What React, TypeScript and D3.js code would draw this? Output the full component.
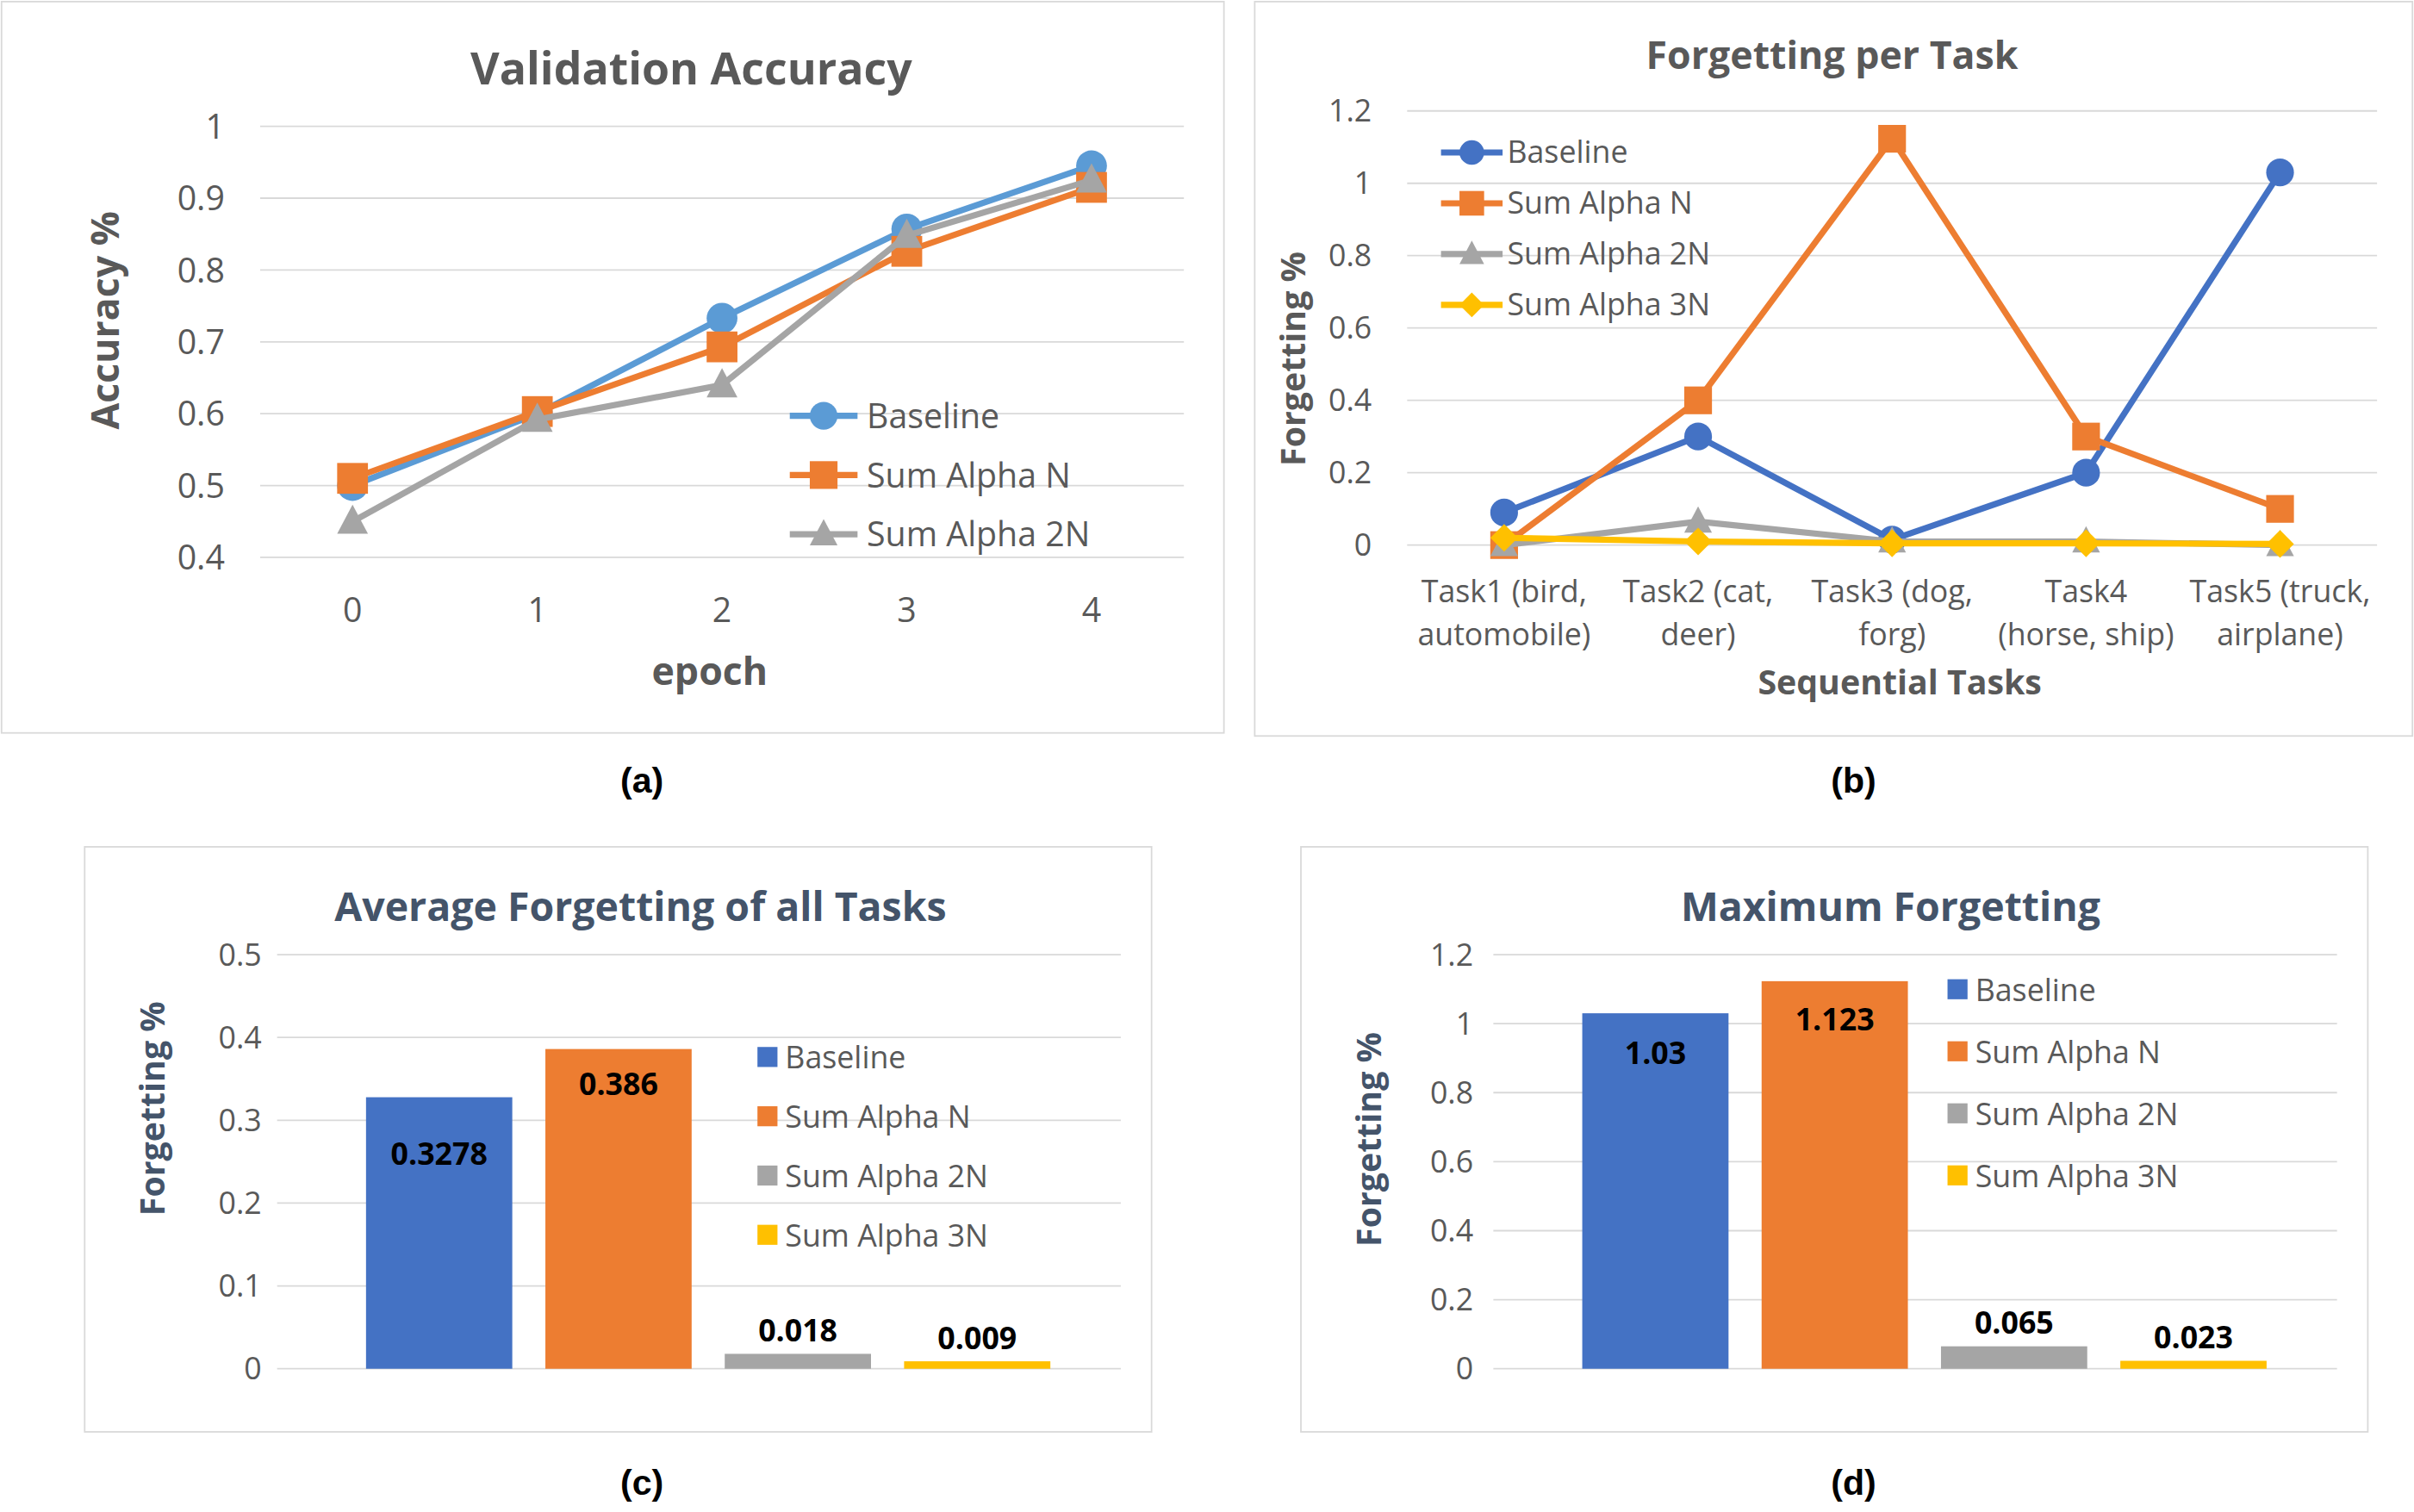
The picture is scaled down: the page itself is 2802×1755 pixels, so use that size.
import * as d3 from "d3";

const epochs = ["0", "1", "2", "3", "4"];
const accBaseline = [0.5, 0.6, 0.733, 0.857, 0.945];
const accSumN = [0.51, 0.603, 0.693, 0.826, 0.915];
const accSum2N = [0.45, 0.592, 0.64, 0.848, 0.925];

const tasks = [
  ["Task1 (bird,", "automobile)"],
  ["Task2 (cat,", "deer)"],
  ["Task3 (dog,", "forg)"],
  ["Task4", "(horse, ship)"],
  ["Task5 (truck,", "airplane)"],
];
const fgBaseline = [0.09, 0.3, 0.015, 0.2, 1.03];
const fgSumN = [0.0, 0.4, 1.123, 0.3, 0.1];
const fgSum2N = [0.0, 0.065, 0.01, 0.01, 0.0];
const fgSum3N = [0.02, 0.01, 0.005, 0.005, 0.003];

const methods = ["Baseline", "Sum Alpha N", "Sum Alpha 2N", "Sum Alpha 3N"];
const avgForgetting = [0.3278, 0.386, 0.018, 0.009];
const avgLabels = ["0.3278", "0.386", "0.018", "0.009"];
const maxForgetting = [1.03, 1.123, 0.065, 0.023];
const maxLabels = ["1.03", "1.123", "0.065", "0.023"];

const FONT = "'Open Sans', 'Noto Sans', sans-serif";
const GRID = "#D9D9D9";
const TXT = "#595959";
const barColors = ["#4472C4", "#ED7D31", "#A5A5A5", "#FFC000"];

function Marker({ kind, x, y, color, s }: { kind: string; x: number; y: number; color: string; s: number }) {
  if (kind === "circle") return <circle cx={x} cy={y} r={s} fill={color} />;
  if (kind === "square") return <rect x={x - s} y={y - s} width={2 * s} height={2 * s} fill={color} />;
  if (kind === "triangle")
    return <path d={`M${x},${y - s * 1.1}L${x + s},${y + s * 0.8}L${x - s},${y + s * 0.8}Z`} fill={color} />;
  return <path d={`M${x},${y - s}L${x + s},${y}L${x},${y + s}L${x - s},${y}Z`} fill={color} />;
}

function PanelA() {
  const x = d3.scalePoint().domain(epochs).range([229, 709]);
  const y = d3.scaleLinear().domain([0.4, 1]).range([362, 82]);
  const ticks = d3.range(0.4, 1.001, 0.1);
  const series = [
    { name: "Baseline", v: accBaseline, c: "#5B9BD5", m: "circle" },
    { name: "Sum Alpha N", v: accSumN, c: "#ED7D31", m: "square" },
    { name: "Sum Alpha 2N", v: accSum2N, c: "#A5A5A5", m: "triangle" },
  ];
  const line = (v: number[]) => d3.line<number>().x((_, i) => x(epochs[i])!).y((d) => y(d))(v)!;
  return (
    <g>
      <rect x={1} y={1} width={794} height={475} fill="white" stroke={GRID} />
      <text x={449} y={55} textAnchor="middle" fontSize={29} fontWeight="bold" fill={TXT}>Validation Accuracy</text>
      {ticks.map((t) => (
        <g key={t}>
          <line x1={169} x2={769} y1={y(t)} y2={y(t)} stroke={GRID} />
          <text x={146} y={y(t) + 8} textAnchor="end" fontSize={22} fill={TXT}>{+t.toFixed(1)}</text>
        </g>
      ))}
      {epochs.map((e) => (
        <text key={e} x={x(e)} y={404} textAnchor="middle" fontSize={22} fill={TXT}>{e}</text>
      ))}
      <text x={461} y={445} textAnchor="middle" fontSize={25} fontWeight="bold" fill={TXT}>epoch</text>
      <text transform="translate(77,208) rotate(-90)" textAnchor="middle" fontSize={25} fontWeight="bold" fill={TXT}>Accuracy %</text>
      {series.map((s) => (
        <g key={s.name}>
          <path d={line(s.v)} fill="none" stroke={s.c} strokeWidth={4} />
          {s.v.map((d, i) => <Marker key={i} kind={s.m} x={x(epochs[i])!} y={y(d)} color={s.c} s={10} />)}
        </g>
      ))}
      {series.map((s, i) => (
        <g key={s.name}>
          <line x1={513} x2={557} y1={270 + i * 38.5} y2={270 + i * 38.5} stroke={s.c} strokeWidth={4} />
          <Marker kind={s.m} x={535} y={270 + i * 38.5} color={s.c} s={9} />
          <text x={563} y={278 + i * 38.5} fontSize={22} fill={TXT}>{s.name}</text>
        </g>
      ))}
    </g>
  );
}

function PanelB() {
  const idx = tasks.map((_, i) => String(i));
  const x = d3.scalePoint().domain(idx).range([977, 1481]);
  const y = d3.scaleLinear().domain([0, 1.2]).range([354, 72]);
  const ticks = d3.range(0, 1.201, 0.2);
  const series = [
    { name: "Baseline", v: fgBaseline, c: "#4472C4", m: "circle" },
    { name: "Sum Alpha N", v: fgSumN, c: "#ED7D31", m: "square" },
    { name: "Sum Alpha 2N", v: fgSum2N, c: "#A5A5A5", m: "triangle" },
    { name: "Sum Alpha 3N", v: fgSum3N, c: "#FFC000", m: "diamond" },
  ];
  const line = (v: number[]) => d3.line<number>().x((_, i) => x(idx[i])!).y((d) => y(d))(v)!;
  return (
    <g>
      <rect x={815} y={1} width={752} height={477} fill="white" stroke={GRID} />
      <text x={1190} y={45} textAnchor="middle" fontSize={25} fontWeight="bold" fill={TXT}>Forgetting per Task</text>
      {ticks.map((t) => (
        <g key={t}>
          <line x1={914} x2={1544} y1={y(t)} y2={y(t)} stroke={GRID} />
          <text x={891} y={y(t) + 7} textAnchor="end" fontSize={20} fill={TXT}>{+t.toFixed(1)}</text>
        </g>
      ))}
      {tasks.map((t, i) => (
        <g key={i}>
          <text x={x(idx[i])} y={391} textAnchor="middle" fontSize={20} fill={TXT}>{t[0]}</text>
          <text x={x(idx[i])} y={419} textAnchor="middle" fontSize={20} fill={TXT}>{t[1]}</text>
        </g>
      ))}
      <text x={1234} y={451} textAnchor="middle" fontSize={22} fontWeight="bold" fill={TXT}>Sequential Tasks</text>
      <text transform="translate(848,233) rotate(-90)" textAnchor="middle" fontSize={22} fontWeight="bold" fill={TXT}>Forgetting %</text>
      {series.map((s) => (
        <g key={s.name}>
          <path d={line(s.v)} fill="none" stroke={s.c} strokeWidth={4} />
          {s.v.map((d, i) => <Marker key={i} kind={s.m} x={x(idx[i])!} y={y(d)} color={s.c} s={9} />)}
        </g>
      ))}
      {series.map((s, i) => (
        <g key={s.name}>
          <line x1={936} x2={976} y1={99 + i * 33} y2={99 + i * 33} stroke={s.c} strokeWidth={4} />
          <Marker kind={s.m} x={956} y={99 + i * 33} color={s.c} s={8} />
          <text x={979} y={106 + i * 33} fontSize={20} fill={TXT}>{s.name}</text>
        </g>
      ))}
    </g>
  );
}

function BarPanel({ ox, title, max, step, tickFmt, vals, labels, yTitle, legendX, legendY, legendStep, inside }: any) {
  const x = d3.scaleBand().domain(methods).range([ox + 172, ox + 638]);
  const y = d3.scaleLinear().domain([0, max]).range([889, 620]);
  const ticks = d3.range(0, max + 1e-6, step);
  const bw = 95;
  return (
    <g>
      <rect x={ox} y={550} width={693} height={380} fill="white" stroke={GRID} />
      <text x={ox + (ox < 800 ? 361 : 383)} y={598} textAnchor="middle" fontSize={26} fontWeight="bold" fill="#44546A">{title}</text>
      {ticks.map((t: number) => (
        <g key={t}>
          <line x1={ox + 125} x2={ox + 673} y1={y(t)} y2={y(t)} stroke={GRID} />
          <text x={ox + (ox < 800 ? 115 : 112)} y={y(t) + 7} textAnchor="end" fontSize={20} fill={TXT}>{tickFmt(t)}</text>
        </g>
      ))}
      <text transform={`translate(${ox + 52},${yTitle}) rotate(-90)`} textAnchor="middle" fontSize={22} fontWeight="bold" fill="#44546A">Forgetting %</text>
      {methods.map((m, i) => {
        const cx = x(m)! + x.bandwidth() / 2;
        const top = y(vals[i]);
        return (
          <g key={m}>
            <rect x={cx - bw / 2} y={top} width={bw} height={889 - top} fill={barColors[i]} />
            <text x={cx} y={i < 2 ? top + inside[i] : top - 8} textAnchor="middle" fontSize={20} fontWeight="bold" fill="#000">{labels[i]}</text>
          </g>
        );
      })}
      {methods.map((m, i) => (
        <g key={m}>
          <rect x={legendX} y={legendY + i * legendStep - 7} width={13} height={13} fill={barColors[i]} />
          <text x={legendX + 18} y={legendY + i * legendStep + 7} fontSize={20} fill={TXT}>{m}</text>
        </g>
      ))}
    </g>
  );
}

export default function App() {
  return (
    <svg width={2802} height={1755} viewBox="0 0 1568 982" style={{ position: "absolute", left: 0, top: 0, background: "white" }} fontFamily={FONT}>
      <rect width={1568} height={982} fill="white" />
      <PanelA />
      <PanelB />
      <BarPanel ox={55} title="Average Forgetting of all Tasks" max={0.5} step={0.1} tickFmt={(t: number) => +t.toFixed(1)}
        vals={avgForgetting} labels={avgLabels} yTitle={720} legendX={492} legendY={687} legendStep={38.5} inside={[44, 30]} />
      <BarPanel ox={845} title="Maximum Forgetting" max={1.2} step={0.2} tickFmt={(t: number) => +t.toFixed(1)}
        vals={maxForgetting} labels={maxLabels} yTitle={740} legendX={1265} legendY={643} legendStep={40.3} inside={[33, 32]} />
      {[["(a)", 417, 515], ["(b)", 1204, 515], ["(c)", 417, 971], ["(d)", 1204, 971]].map(([t, cx, cy]) => (
        <text key={t as string} x={cx as number} y={cy as number} textAnchor="middle" fontSize={23} fontWeight="bold" fontFamily="'Liberation Sans', Arial, sans-serif">{t}</text>
      ))}
    </svg>
  );
}
